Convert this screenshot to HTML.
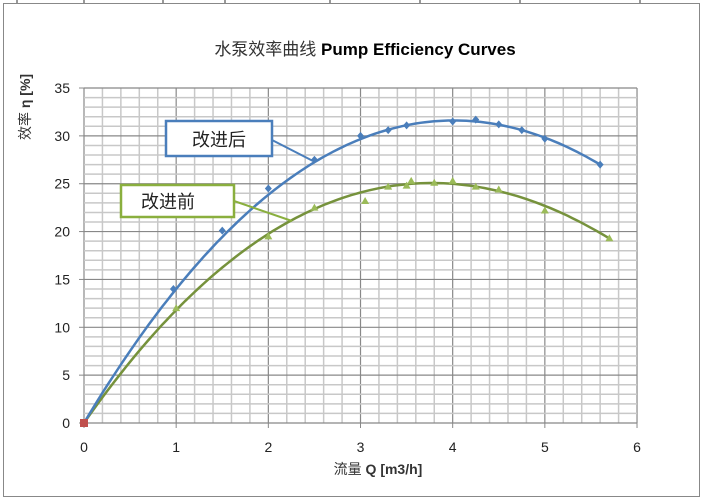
<!DOCTYPE html><html><head><style>body{margin:0;background:#fff}svg{display:block}text{font-family:"Liberation Sans","Noto Sans CJK SC",sans-serif}</style></head><body>
<svg id="s" width="704" height="501" xmlns="http://www.w3.org/2000/svg">
<rect x="0" y="0" width="704" height="501" fill="#fff"/>
<g stroke="#333" stroke-width="1"><line x1="17" y1="0" x2="17" y2="3"/><line x1="84" y1="0" x2="84" y2="3"/><line x1="163" y1="0" x2="163" y2="3"/><line x1="225" y1="0" x2="225" y2="3"/><line x1="330" y1="0" x2="330" y2="3"/><line x1="420" y1="0" x2="420" y2="3"/><line x1="520" y1="0" x2="520" y2="3"/><line x1="640" y1="0" x2="640" y2="3"/></g>
<rect x="3.5" y="3.5" width="696" height="493" fill="#fff" stroke="#888"/>
<g id="grid"></g>
<text x="365" y="55" font-size="17" text-anchor="middle" fill="#333">水泵效率曲线 <tspan font-weight="bold" fill="#000">Pump Efficiency Curves</tspan></text>
<text transform="translate(30,107) rotate(-90)" font-size="14" text-anchor="middle" fill="#333">效率 <tspan font-weight="bold">η [%]</tspan></text>
<text x="378" y="474" font-size="14" text-anchor="middle" fill="#333">流量 <tspan font-weight="bold">Q [m3/h]</tspan></text>
<g id="data"></g>
<line x1="272" y1="140" x2="313" y2="161" stroke="#4a7ebb" stroke-width="2"/>
<rect x="166" y="121" width="106" height="35" fill="#fff" stroke="#4a7ebb" stroke-width="2.5"/>
<text x="219" y="146" font-size="18" text-anchor="middle" fill="#222">改进后</text>
<line x1="234" y1="201" x2="292" y2="221" stroke="#8aaf3e" stroke-width="2"/>
<rect x="121" y="185" width="113" height="32" fill="#fff" stroke="#8aaf3e" stroke-width="2.5"/>
<text x="168" y="208" font-size="18" text-anchor="middle" fill="#222">改进前</text>
</svg>
<script>
var X=q=>84+q*92.17,Y=e=>423-e*9.571,ns="http://www.w3.org/2000/svg";
function el(p,t,a){var e=document.createElementNS(ns,t);for(var k in a)e.setAttribute(k,a[k]);p.appendChild(e);return e}
var g=document.getElementById('grid');
for(var i=0;i<=30;i++){var x=X(i*0.2);el(g,'line',{x1:x,y1:Y(35),x2:x,y2:Y(0),stroke:i%5?'#c8c8c8':'#888','stroke-width':i%5?1.5:1.2})}
for(var j=0;j<=35;j++){var y=Y(j);el(g,'line',{x1:X(0),y1:y,x2:X(6),y2:y,stroke:j%5?'#c8c8c8':'#888','stroke-width':j%5?1.5:1.2})}
for(var i=0;i<=6;i++){el(g,'line',{x1:X(i),y1:Y(0),x2:X(i),y2:Y(0)+5,stroke:'#888'});var t=el(g,'text',{x:X(i),y:452,'font-size':14,'text-anchor':'middle',fill:'#222'});t.textContent=i}
for(var j=0;j<=35;j+=5){el(g,'line',{x1:X(0)-5,y1:Y(j),x2:X(0),y2:Y(j),stroke:'#888'});var t=el(g,'text',{x:70,y:Y(j)+5,'font-size':14,'text-anchor':'end',fill:'#222'});t.textContent=j}
var d=document.getElementById('data');
function curve(a,b,c,qm,col){var s='';for(var q=0;q<=qm+1e-9;q+=0.05){var e=a*q+b*q*q+c*q*q*q;s+=(q?'L':'M')+X(q).toFixed(1)+','+Y(e).toFixed(1)}el(d,'path',{d:s,fill:'none',stroke:col,'stroke-width':2.5})}
curve(13.79,-2.026,0.0351,5.7,'#76923c');
curve(16.13,-2.151,0.0235,5.6,'#4a7ebb');
[[0.97,14],[1.5,20.1],[2,24.5],[2.5,27.5],[3,30],[3.3,30.6],[3.5,31.1],[4,31.5],[4.25,31.7],[4.5,31.2],[4.75,30.6],[5,29.7],[5.6,27]].forEach(p=>{var x=X(p[0]),y=Y(p[1]);el(d,'path',{d:`M${x},${y-4}L${x+3.5},${y}L${x},${y+4}L${x-3.5},${y}Z`,fill:'#4a7ebb'})});
[[1,12],[2,19.5],[2.5,22.5],[3.05,23.2],[3.3,24.7],[3.5,24.8],[3.55,25.3],[3.8,25.1],[4,25.3],[4.25,24.7],[4.5,24.4],[5,22.2],[5.7,19.3]].forEach(p=>{var x=X(p[0]),y=Y(p[1]);el(d,'path',{d:`M${x},${y-4}L${x+4},${y+3}L${x-4},${y+3}Z`,fill:'#9bbb59'})});
el(d,'rect',{x:X(0)-4,y:Y(0)-4,width:8,height:8,fill:'#c0504d'});
</script>
</body></html>
